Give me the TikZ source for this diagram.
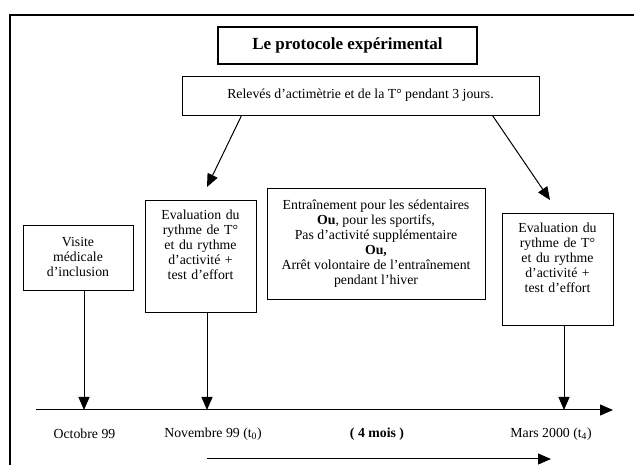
\documentclass[tikz,border=0pt]{standalone}
\usepackage{fontspec}
\setmainfont{Liberation Serif}
\usetikzlibrary{arrows.meta}
\begin{document}
\begin{tikzpicture}[x=1pt, y=1pt,
    box/.style={draw, line width=0.9pt, align=center, font=\fontsize{13.8}{15}\selectfont},
    evalbox/.style={box, anchor=north, text width=101pt, inner xsep=5pt, inner ysep=9pt, text depth=84.5pt},
    arr/.style={line width=1pt, -{Triangle[length=13pt, width=11pt]}},
    lbl/.style={font=\fontsize{13.8}{15}\selectfont}]
    \useasboundingbox (0,0) rectangle (634,465);
    \clip (0,0) rectangle (634,465);

    % Outer frame (runs off the page on the right and bottom)
    \draw[line width=2.5pt] (10,-20) -- (10,450) -- (660,450);

    % Title and measurements
    \node[box, line width=1.8pt, minimum width=259pt, minimum height=37pt,
          font=\bfseries\fontsize{17}{20}\selectfont] (title) at (347.5,419.5) {Le protocole expérimental};
    \node[box, minimum width=357pt, minimum height=39pt] (rel) at (360.5,369.5) {Relevés d'actimètrie et de la T° pendant 3 jours.};

    % Boxes above the time line
    \node[box, minimum width=110pt, minimum height=65pt] (vis) at (78,207.5) {Visite\\ médicale\\ d'inclusion};
    \node[evalbox] (evalA) at (200.5,265) {Evaluation du\\ rythme de T°\\ et du rythme\\ d'activité +\\ test d'effort};
    \node[box, minimum width=218pt, minimum height=111pt] (mid) at (376,221.5) {Entraînement pour les sédentaires\\
        \textbf{Ou}, pour les sportifs,\\ Pas d'activité supplémentaire\\ \textbf{Ou,}\\
        Arrêt volontaire de l'entraînement\\ pendant l'hiver};
    \node[evalbox] (evalB) at (557.5,252) {Evaluation du\\ rythme de T°\\ et du rythme\\ d'activité +\\ test d'effort};

    % Measurements go to both evaluations
    \coordinate (tipA) at (207,278);
    \coordinate (tipB) at (550,265);
    \draw[arr] ([xshift=60pt]rel.south west) -- (tipA);
    \draw[arr] ([xshift=-47pt]rel.south east) -- (tipB);

    % Time line
    \coordinate (tstart) at (36,55);
    \coordinate (tend) at (613,55);
    \coordinate (oct) at (84,55);
    \coordinate (nov) at (207,55);
    \coordinate (mar) at (564,55);
    \draw[arr] (tstart) -- (tend);
    \draw[arr] (vis.south -| oct) -- (oct);
    \draw[arr] (evalA.south -| nov) -- (nov);
    \draw[arr] (evalB.south -| mar) -- (mar);

    % Dates
    \node[lbl] (loct) at (84.5,31) {Octobre 99};
    \node[lbl] (lnov) at (213,31) {Novembre 99 (t\textsubscript{0})};
    \node[lbl, font=\bfseries\fontsize{13.8}{15}\selectfont] (lmois) at (377,31) {( 4 mois )};
    \node[lbl] (lmar) at (551,31) {Mars 2000 (t\textsubscript{4})};

    % Duration arrow
    \coordinate (pstart) at (207,6);
    \coordinate (pend) at (551,6);
    \draw[arr] (pstart) -- (pend);
\end{tikzpicture}
\end{document}
